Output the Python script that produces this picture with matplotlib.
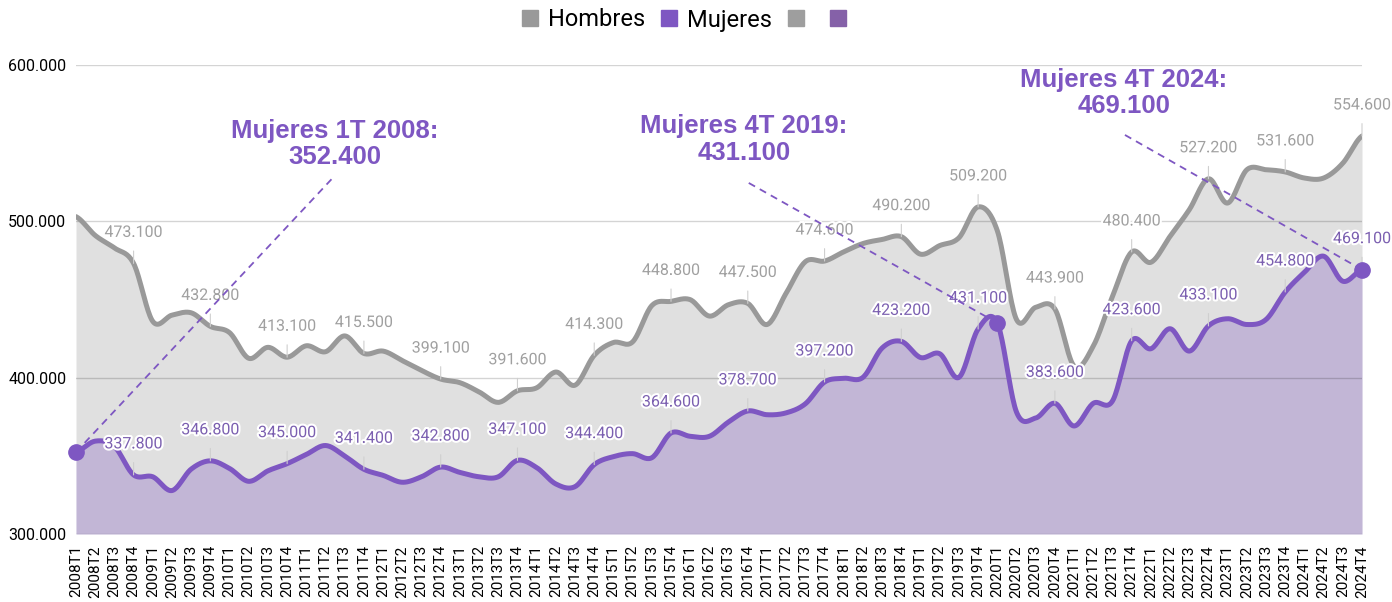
import matplotlib

matplotlib.use("Agg")
import matplotlib.pyplot as plt
import matplotlib.patheffects as pe
import numpy as np
from matplotlib.patches import Patch
from matplotlib.ticker import FuncFormatter

# quarters 2008T1 .. 2024T4
years = list(range(2008, 2025))
quarters = [1, 2, 3, 4]
periods = [f"{y}T{q}" for y in years for q in quarters]

# values in thousands of persons
hombres = [
    503.0, 491.0, 483.0, 473.1, 436.0, 440.0, 441.5, 432.8, 428.8, 412.4,
    419.4, 413.1, 420.4, 416.6, 426.7, 415.5, 417.0, 410.9, 404.6, 399.1,
    396.8, 390.9, 384.2, 391.6, 393.5, 403.6, 395.2, 414.3, 422.5, 422.9,
    446.1, 448.8, 449.9, 439.4, 446.7, 447.5, 434.0, 454.1, 474.2, 474.6,
    480.5, 485.8, 488.4, 490.2, 479.0, 484.5, 489.5, 509.2, 494.0, 437.2,
    445.0, 443.9, 407.4, 420.2, 452.0, 480.4, 473.8, 490.4, 507.4, 527.2,
    511.7, 533.0, 533.0, 531.6, 527.7, 527.7, 537.2, 554.6,
]
mujeres = [
    352.4, 359.4, 356.0, 337.8, 336.6, 327.8, 341.5, 346.8, 341.9, 333.7,
    340.4, 345.0, 350.9, 356.6, 349.9, 341.4, 337.5, 333.1, 336.6, 342.8,
    339.4, 336.6, 336.6, 347.1, 342.5, 332.0, 330.3, 344.4, 349.5, 351.4,
    348.8, 364.6, 362.5, 362.5, 371.7, 378.7, 376.3, 377.5, 383.3, 397.2,
    399.6, 400.2, 419.0, 423.2, 412.9, 415.3, 400.2, 431.1, 435.0, 378.0,
    374.2, 383.6, 369.1, 383.6, 385.1, 423.6, 418.5, 431.3, 417.0, 433.1,
    437.7, 434.0, 437.2, 454.8, 467.4, 477.7, 461.7, 469.1,
]
label_idx = list(range(3, 68, 4))  # every 4th quarter (T4)

# highlighted points: (index, text, text centre, dashed line end)
callouts = [
    (0, "Mujeres 1T 2008:\n352.400", (13.5, 549.5), (13.5, 529.4)),
    (48, "Mujeres 4T 2019:\n431.100", (34.8, 552.4), (35.0, 524.9)),
    (67, "Mujeres 4T 2024:\n469.100", (54.6, 582.1), (54.6, 555.6)),
]

GRAY = "#999999"
PURPLE = "#7e57c2"


def catmull_rom(y, n=20):
    y = np.asarray(y, dtype=float)
    p = np.concatenate([[y[0]], y, [y[-1]]])
    t = np.linspace(0, 1, n, endpoint=False)[:, None]
    p0, p1, p2, p3 = p[:-3], p[1:-2], p[2:-1], p[3:]
    ys = 0.5 * (2 * p1 + (-p0 + p2) * t + (2 * p0 - 5 * p1 + 4 * p2 - p3) * t ** 2
                + (-p0 + 3 * p1 - 3 * p2 + p3) * t ** 3)
    xs = np.arange(len(y) - 1)[None, :] + t
    xs = np.append(xs.T.ravel(), len(y) - 1)
    ys = np.append(ys.T.ravel(), y[-1])
    return xs, ys


plt.rcParams["font.family"] = ["Roboto", "DejaVu Sans"]

fig = plt.figure(figsize=(13.92, 6.02), dpi=100)
ax = fig.add_axes([76 / 1392, 68 / 602, 1286 / 1392, 469 / 602])

xh, yh = catmull_rom(hombres)
xm, ym = catmull_rom(mujeres)
ax.fill_between(xh, 300, yh, color=GRAY, alpha=0.3, lw=0, zorder=1)
ax.fill_between(xm, 300, ym, color=PURPLE, alpha=0.3, lw=0, zorder=2)
for v in [300, 400, 500, 600]:
    ax.axhline(v, color="black", alpha=0.17, lw=1, zorder=2.5)
ax.plot(xh, yh, color=GRAY, lw=3.6, zorder=3, solid_capstyle="round")
ax.plot(xm, ym, color=PURPLE, lw=3.6, zorder=4, solid_capstyle="round")

halo = [pe.withStroke(linewidth=3, foreground="white")]
for series, col in [(hombres, "#a0a0a0"), (mujeres, "#7b5fb0")]:
    for i in label_idx:
        ax.annotate(f"{series[i]:.3f}", xy=(i, series[i]), xytext=(0, 31),
                    textcoords="offset pixels", ha="center", va="center",
                    fontsize=11.5, color=col, path_effects=halo, zorder=5,
                    arrowprops=dict(arrowstyle="-", color="#cfcfcf", lw=0.8,
                                    shrinkA=6, shrinkB=0))

for i, txt, (tx, ty), (lx, ly) in callouts:
    ax.plot([i, lx], [mujeres[i], ly], color=PURPLE, lw=1.3,
            linestyle=(0, (4, 3)), zorder=6)
    ax.plot(i, mujeres[i], "o", color=PURPLE, ms=11, zorder=7, clip_on=False)
    ax.text(tx, ty, txt, ha="center", va="center", fontsize=18.5,
            fontweight="bold", color=PURPLE, family="Liberation Sans",
            linespacing=1.15, zorder=7)

ax.set_xlim(0, len(periods) - 1)
ax.set_ylim(300, 600)
ax.set_yticks([300, 400, 500, 600])
ax.yaxis.set_major_formatter(FuncFormatter(lambda v, _: f"{v:.3f}"))
ax.set_xticks(range(len(periods)))
ax.set_xticklabels(periods, rotation=90, fontsize=11)
ax.tick_params(axis="y", length=0, pad=7, labelsize=11.5)
ax.tick_params(axis="x", length=0, pad=8)
for s in ax.spines.values():
    s.set_visible(False)

handles = [Patch(color=GRAY), Patch(color=PURPLE), Patch(color="#9e9e9e"),
           Patch(color="#8561a8")]
fig.legend(handles, ["Hombres", "Mujeres", "", ""], loc="center",
           bbox_to_anchor=(0.495, 1 - 20 / 602), ncol=4, frameon=False,
           fontsize=17, handlelength=0.68, handleheight=0.68,
           handletextpad=0.45, columnspacing=0.65)

fig.savefig("out.png", dpi=100)
